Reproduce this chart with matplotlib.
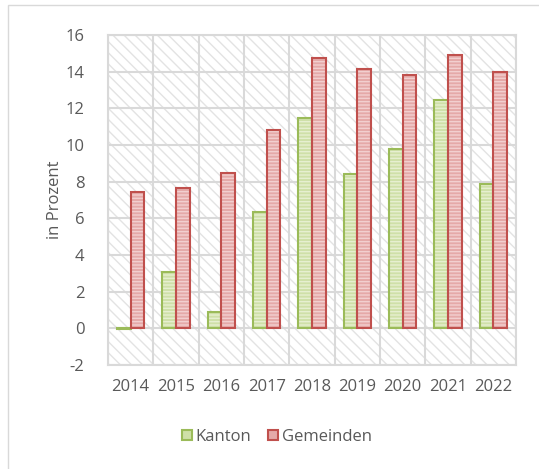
import numpy as np
import matplotlib
matplotlib.use("Agg")
import matplotlib.pyplot as plt
from matplotlib.patches import Rectangle, Patch

years = ["2014", "2015", "2016", "2017", "2018", "2019", "2020", "2021", "2022"]
kanton = [-0.05, 3.1, 0.9, 6.35, 11.5, 8.4, 9.8, 12.45, 7.85]
gemeinden = [7.45, 7.65, 8.5, 10.8, 14.75, 14.15, 13.8, 14.9, 14.0]
y_ticks = [-2, 0, 2, 4, 6, 8, 10, 12, 14, 16]

plt.rcParams['font.family'] = ['Open Sans', 'DejaVu Sans']
plt.rcParams['hatch.linewidth'] = 1.0
plt.rcParams['axes.unicode_minus'] = False
text_col = '#595959'
grid_col = '#d9d9d9'
fs = 12

fig = plt.figure(figsize=(5.39, 4.69), dpi=100)
ax = fig.add_axes([108 / 539, 1 - 365 / 469, 408 / 539, 330 / 469])

# outer chart frame (only top/left visible)
fig.patches.append(Rectangle((8 / 539, -0.1), 1.2, 1 - 5 / 469 + 0.1, transform=fig.transFigure,
                             fill=False, edgecolor=grid_col, linewidth=1.0, zorder=0))

x = np.arange(len(years))
w = 0.3

# background hatch of plot area
ax.add_patch(Rectangle((0, 0), 1, 1, transform=ax.transAxes, facecolor='white',
                       edgecolor='#e3e3e3', hatch='\\\\\\', linewidth=0, zorder=0))

# bars: filled + stripes, then outline
ax.bar(x - w / 2, kanton, w, facecolor='#cfe0a8', edgecolor='#e6efd0', hatch='-----',
       linewidth=0, zorder=3)
ax.bar(x - w / 2, kanton, w, fill=False, edgecolor='#9bbb59', linewidth=1.5, zorder=4)
ax.bar(x + w / 2, gemeinden, w, facecolor='#e5a9a8', edgecolor='#f2cfcf', hatch='-----',
       linewidth=0, zorder=3)
ax.bar(x + w / 2, gemeinden, w, fill=False, edgecolor='#c0504d', linewidth=1.5, zorder=4)

ax.set_xlim(-0.5, len(years) - 0.5)
ax.set_ylim(-2, 16)
ax.set_yticks(y_ticks)
ax.set_xticks(x)
ax.set_xticklabels(years)
ax.set_xticks(np.arange(len(years) + 1) - 0.5, minor=True)

ax.grid(True, axis='y', which='major', color=grid_col, linewidth=1.5, zorder=1)
ax.grid(True, axis='x', which='minor', color=grid_col, linewidth=1.5, zorder=1)
ax.grid(False, axis='x', which='major')
ax.set_axisbelow(True)
for s in ax.spines.values():
    s.set_color(grid_col)
    s.set_linewidth(1.5)

ax.tick_params(axis='both', which='both', length=0, labelsize=fs, colors=text_col)
ax.tick_params(axis='y', pad=17)
ax.tick_params(axis='x', pad=10)
ax.set_ylabel("in Prozent", fontsize=fs, color=text_col, labelpad=2)

handles = [Patch(facecolor='#cfe0a8', edgecolor='#9bbb59', linewidth=1.5, label='Kanton'),
           Patch(facecolor='#e5a9a8', edgecolor='#c0504d', linewidth=1.5, label='Gemeinden')]
fig.legend(handles=handles, loc='center', bbox_to_anchor=(277 / 539, 1 - 437 / 469), ncol=2,
           frameon=False, fontsize=fs, labelcolor=text_col, handlelength=0.6, handleheight=0.6,
           handletextpad=0.2, columnspacing=1.0)

fig.savefig("out.png", dpi=100)
